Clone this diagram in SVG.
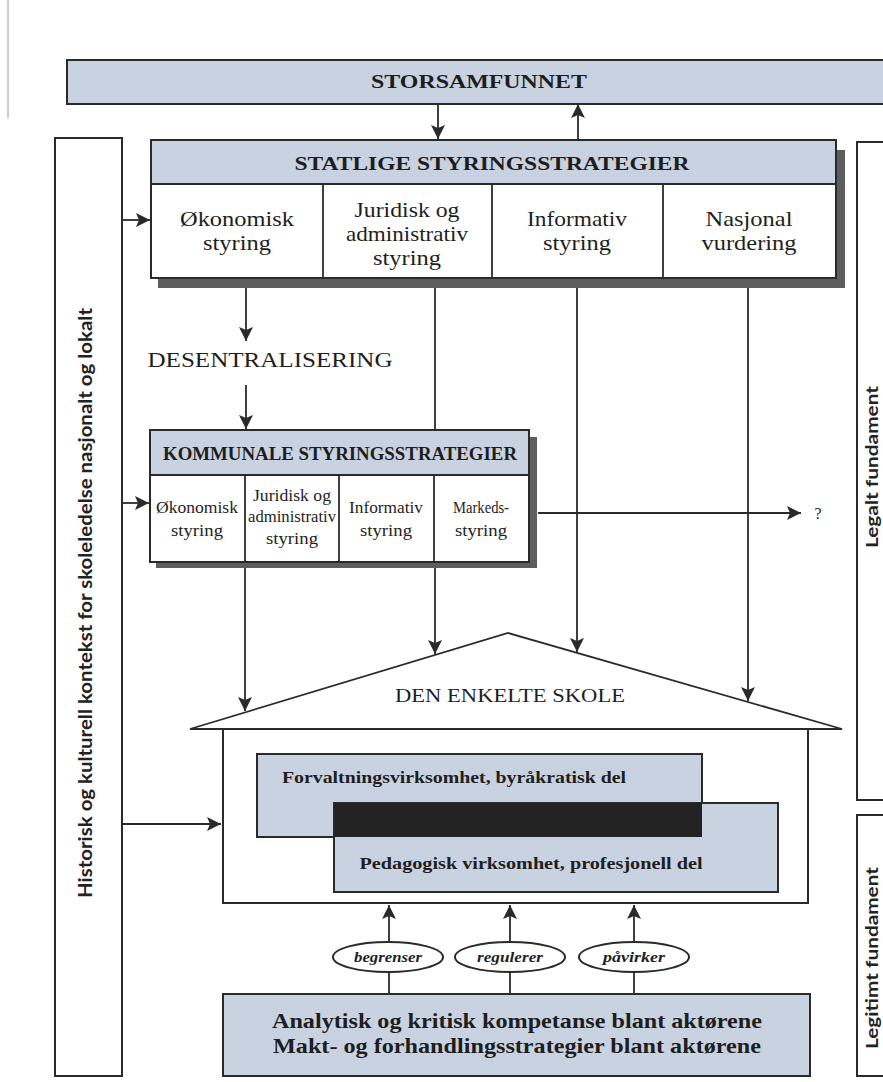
<svg xmlns="http://www.w3.org/2000/svg" width="883" height="1082" viewBox="0 0 883 1082">
<style>
.blue{fill:#c9d2e1;stroke:#2a2a2a;stroke-width:2}
.box{fill:#ffffff;stroke:#2a2a2a;stroke-width:2}
.ln{fill:none;stroke:#2a2a2a;stroke-width:1.8}
.shadow{fill:#5e5e5e}
.t{font-family:"Liberation Serif","Times New Roman",serif;fill:#1e1e1e;text-anchor:middle}
.b{font-weight:bold}
.side{font-family:Lato,"Liberation Sans",sans-serif;font-weight:bold;fill:#222;text-anchor:middle}
.conn{fill:none;stroke:#2a2a2a;stroke-width:1.8}
</style>
<defs>
<marker id="ah" viewBox="0 0 14 14" refX="14" refY="7" markerWidth="14" markerHeight="14" markerUnits="userSpaceOnUse" orient="auto">
<path d="M0,0 L14,7 L0,14 L3,7 z" fill="#2a2a2a"/>
</marker>
</defs>
<rect width="883" height="1082" fill="#ffffff"/>
<line x1="8" y1="0" x2="8" y2="118" stroke="#9a9a9a" stroke-width="1"/>

<g id="connectors">
<line class="conn" x1="438" y1="104" x2="438" y2="139" marker-end="url(#ah)"/>
<line class="conn" x1="578" y1="139" x2="578" y2="104" marker-end="url(#ah)"/>
<line class="conn" x1="123" y1="220" x2="150" y2="220" marker-end="url(#ah)"/>
<line class="conn" x1="246" y1="279" x2="246" y2="341" marker-end="url(#ah)"/>
<line class="conn" x1="246" y1="385" x2="246" y2="429" marker-end="url(#ah)"/>
<line class="conn" x1="123" y1="503" x2="149" y2="503" marker-end="url(#ah)"/>
<line class="conn" x1="435" y1="279" x2="435" y2="654" marker-end="url(#ah)"/>
<line class="conn" x1="577" y1="279" x2="577" y2="652" marker-end="url(#ah)"/>
<line class="conn" x1="748" y1="279" x2="748" y2="701" marker-end="url(#ah)"/>
<line class="conn" x1="245" y1="563" x2="245" y2="711" marker-end="url(#ah)"/>
<line class="conn" x1="538" y1="513" x2="801" y2="513" marker-end="url(#ah)"/>
<line class="conn" x1="123" y1="824" x2="221" y2="824" marker-end="url(#ah)"/>
<line class="conn" x1="389" y1="942" x2="389" y2="905" marker-end="url(#ah)"/>
<line class="conn" x1="510" y1="942" x2="510" y2="905" marker-end="url(#ah)"/>
<line class="conn" x1="634" y1="942" x2="634" y2="905" marker-end="url(#ah)"/>
<line class="conn" x1="389" y1="972" x2="389" y2="994"/>
<line class="conn" x1="510" y1="972" x2="510" y2="994"/>
<line class="conn" x1="634" y1="972" x2="634" y2="994"/>
</g>

<g id="storsamfunnet">
<rect class="blue" x="67" y="60" width="830" height="44"/>
<text class="t b" x="479" y="88" font-size="19" textLength="216" lengthAdjust="spacingAndGlyphs">STORSAMFUNNET</text>
</g>

<g id="statlige">
<rect class="shadow" x="158" y="150" width="687" height="138"/>
<rect class="box" x="151" y="140" width="685" height="138"/>
<rect class="blue" x="151" y="140" width="685" height="44"/>
<text class="t b" x="492" y="170" font-size="19" textLength="395" lengthAdjust="spacingAndGlyphs">STATLIGE STYRINGSSTRATEGIER</text>
<line class="ln" x1="323" y1="184" x2="323" y2="278"/>
<line class="ln" x1="492" y1="184" x2="492" y2="278"/>
<line class="ln" x1="663" y1="184" x2="663" y2="278"/>
<text class="t" font-size="21" x="237" y="226" textLength="114" lengthAdjust="spacingAndGlyphs">Økonomisk</text>
<text class="t" font-size="21" x="237" y="250" textLength="68" lengthAdjust="spacingAndGlyphs">styring</text>
<text class="t" font-size="21" x="407" y="217" textLength="105" lengthAdjust="spacingAndGlyphs">Juridisk og</text>
<text class="t" font-size="21" x="407" y="241" textLength="122" lengthAdjust="spacingAndGlyphs">administrativ</text>
<text class="t" font-size="21" x="407" y="265" textLength="68" lengthAdjust="spacingAndGlyphs">styring</text>
<text class="t" font-size="21" x="577" y="226" textLength="100" lengthAdjust="spacingAndGlyphs">Informativ</text>
<text class="t" font-size="21" x="577" y="250" textLength="68" lengthAdjust="spacingAndGlyphs">styring</text>
<text class="t" font-size="21" x="749" y="226" textLength="87" lengthAdjust="spacingAndGlyphs">Nasjonal</text>
<text class="t" font-size="21" x="749" y="250" textLength="95" lengthAdjust="spacingAndGlyphs">vurdering</text>
</g>

<g id="desentralisering">
<text class="t" x="270" y="367" font-size="20" textLength="245" lengthAdjust="spacingAndGlyphs">DESENTRALISERING</text>
</g>

<g id="kommunale">
<rect class="shadow" x="156" y="437" width="381" height="131"/>
<rect class="box" x="150" y="430" width="379" height="132"/>
<rect class="blue" x="150" y="430" width="379" height="45"/>
<text class="t b" x="340" y="460" font-size="18" textLength="354" lengthAdjust="spacingAndGlyphs">KOMMUNALE STYRINGSSTRATEGIER</text>
<line class="ln" x1="245" y1="475" x2="245" y2="562"/>
<line class="ln" x1="339" y1="475" x2="339" y2="562"/>
<line class="ln" x1="434" y1="475" x2="434" y2="562"/>
<text class="t" font-size="17" x="197" y="513" textLength="82" lengthAdjust="spacingAndGlyphs">Økonomisk</text>
<text class="t" font-size="17" x="197" y="536" textLength="52" lengthAdjust="spacingAndGlyphs">styring</text>
<text class="t" font-size="17" x="292" y="501" textLength="78" lengthAdjust="spacingAndGlyphs">Juridisk og</text>
<text class="t" font-size="17" x="292" y="522" textLength="88" lengthAdjust="spacingAndGlyphs">administrativ</text>
<text class="t" font-size="17" x="292" y="544" textLength="52" lengthAdjust="spacingAndGlyphs">styring</text>
<text class="t" font-size="17" x="386" y="513" textLength="74" lengthAdjust="spacingAndGlyphs">Informativ</text>
<text class="t" font-size="17" x="386" y="536" textLength="52" lengthAdjust="spacingAndGlyphs">styring</text>
<text class="t" font-size="17" x="481" y="513" textLength="56" lengthAdjust="spacingAndGlyphs">Markeds-</text>
<text class="t" font-size="17" x="481" y="536" textLength="52" lengthAdjust="spacingAndGlyphs">styring</text>
</g>

<g id="question">
<text class="t" x="818" y="519" font-size="16">?</text>
</g>

<g id="skole">
<path class="ln" stroke-width="2" d="M190,729 L508,633 L842,729 Z"/>
<rect class="box" x="223" y="729" width="585" height="174"/>
<text class="t" x="510" y="702" font-size="19" textLength="230" lengthAdjust="spacingAndGlyphs">DEN ENKELTE SKOLE</text>
</g>

<g id="forvaltning">
<rect class="blue" stroke-width="1.6" x="257" y="754" width="445" height="83"/>
<text class="t b" x="454" y="783" font-size="16" textLength="344" lengthAdjust="spacingAndGlyphs">Forvaltningsvirksomhet, byråkratisk del</text>
</g>

<g id="pedagogisk">
<rect class="blue" stroke-width="1.6" x="334" y="803" width="444" height="89"/>
<rect x="334" y="803" width="368" height="34" fill="#232323"/>
<text class="t b" x="531" y="869" font-size="16" textLength="343" lengthAdjust="spacingAndGlyphs">Pedagogisk virksomhet, profesjonell del</text>
</g>

<g id="begrenser">
<ellipse class="box" stroke-width="1.6" cx="388" cy="957" rx="55" ry="15"/>
<text class="t b" font-style="italic" x="388" y="962" font-size="15" textLength="68" lengthAdjust="spacingAndGlyphs">begrenser</text>
</g>
<g id="regulerer">
<ellipse class="box" stroke-width="1.6" cx="510" cy="957" rx="55" ry="15"/>
<text class="t b" font-style="italic" x="510" y="962" font-size="15" textLength="66" lengthAdjust="spacingAndGlyphs">regulerer</text>
</g>
<g id="pavirker">
<ellipse class="box" stroke-width="1.6" cx="634" cy="957" rx="55" ry="15"/>
<text class="t b" font-style="italic" x="634" y="962" font-size="15" textLength="62" lengthAdjust="spacingAndGlyphs">påvirker</text>
</g>

<g id="aktorene">
<rect class="blue" x="223" y="994" width="587" height="82"/>
<text class="t b" x="517" y="1028" font-size="21" textLength="490" lengthAdjust="spacingAndGlyphs">Analytisk og kritisk kompetanse blant aktørene</text>
<text class="t b" x="517" y="1053" font-size="21" textLength="488" lengthAdjust="spacingAndGlyphs">Makt- og forhandlingsstrategier blant aktørene</text>
</g>

<g id="kontekst">
<rect class="box" stroke-width="1.8" x="55" y="138" width="67" height="938"/>
<text class="side" transform="translate(92,603) rotate(-90)" font-size="19" textLength="590" lengthAdjust="spacingAndGlyphs">Historisk og kulturell kontekst for skoleledelse nasjonalt og lokalt</text>
</g>

<g id="legalt">
<rect class="box" stroke-width="1.8" x="857" y="142" width="50" height="658"/>
<text class="side" transform="translate(878,467) rotate(-90)" font-size="17" textLength="162" lengthAdjust="spacingAndGlyphs">Legalt fundament</text>
</g>

<g id="legitimt">
<rect class="box" stroke-width="1.8" x="857" y="815" width="50" height="261"/>
<text class="side" transform="translate(878,958) rotate(-90)" font-size="17" textLength="182" lengthAdjust="spacingAndGlyphs">Legitimt fundament</text>
</g>
</svg>
